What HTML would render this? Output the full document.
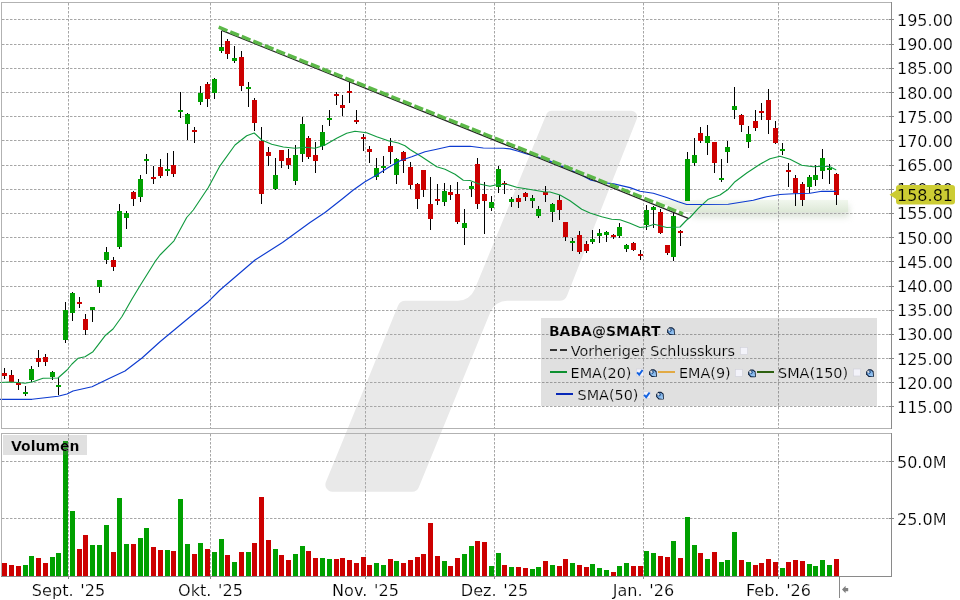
<!DOCTYPE html>
<html lang="de"><head><meta charset="utf-8"><title>BABA Chart</title>
<style>html,body{margin:0;padding:0;background:#fff;overflow:hidden}svg{display:block;will-change:transform}text{font-family:'DejaVu Sans','Liberation Sans',sans-serif;fill:#1c1c1c}.ax{font-size:16px;fill:#000;stroke:#fff;stroke-width:0.2px}.lg{font-size:14.4px;fill:#000;stroke:#e0e0e0;stroke-width:0.2px}.b{font-weight:bold}.cr{shape-rendering:crispEdges}</style></head><body>
<svg width="960" height="600" viewBox="0 0 960 600">
<defs><filter id="blur" x="-10%" y="-80%" width="120%" height="300%"><feGaussianBlur stdDeviation="3"/></filter><linearGradient id="band" x1="0" y1="0" x2="0" y2="1"><stop offset="0" stop-color="#f1f7ee"/><stop offset="1" stop-color="#dde8d7"/></linearGradient><linearGradient id="ico" x1="0" y1="0" x2="1" y2="1"><stop offset="0" stop-color="#2f62a2"/><stop offset="0.5" stop-color="#7fb2e8"/><stop offset="1" stop-color="#a9d4fb"/></linearGradient></defs>
<rect x="0" y="0" width="960" height="600" fill="#ffffff"/>
<path d="M546.3 114.5 A6 6 0 0 1 551.8 110.8 L631.2 110.8 A6 6 0 0 1 636.8 119.0 L567.0 295.7 A8 8 0 0 1 559.6 300.8 L507.1 300.8 A18 18 0 0 0 490.4 312.0 L418.8 487.3 A7 7 0 0 1 412.3 491.7 L332.4 491.7 A7 7 0 0 1 325.9 482.1 L398.0 305.8 A8 8 0 0 1 405.4 300.8 L457.9 300.8 A18 18 0 0 0 474.6 289.6 Z" fill="#e9e9e9"/>
<rect x="692" y="205" width="157" height="12" fill="#c4d0be" opacity="0.6" filter="url(#blur)"/>
<path d="M653 200 H848 V212 H684 Z" fill="url(#band)"/>
<g stroke="#a6a6a6" stroke-width="1" stroke-dasharray="2.5 1.5" fill="none">
<path d="M2 19.5 H891"/>
<path d="M2 44.5 H891"/>
<path d="M2 68.5 H891"/>
<path d="M2 92.5 H891"/>
<path d="M2 116.5 H891"/>
<path d="M2 140.5 H891"/>
<path d="M2 165.5 H891"/>
<path d="M2 189.5 H891"/>
<path d="M2 213.5 H891"/>
<path d="M2 237.5 H891"/>
<path d="M2 261.5 H891"/>
<path d="M2 286.5 H891"/>
<path d="M2 310.5 H891"/>
<path d="M2 334.5 H891"/>
<path d="M2 358.5 H891"/>
<path d="M2 382.5 H891"/>
<path d="M2 406.5 H891"/>
<path d="M2 461.5 H891"/>
<path d="M2 518.5 H891"/>
<path d="M68.5 3 V428"/>
<path d="M68.5 434 V576"/>
<path d="M210.5 3 V428"/>
<path d="M210.5 434 V576"/>
<path d="M365.5 3 V428"/>
<path d="M365.5 434 V576"/>
<path d="M494.5 3 V428"/>
<path d="M494.5 434 V576"/>
<path d="M643.5 3 V428"/>
<path d="M643.5 434 V576"/>
<path d="M778.5 3 V428"/>
<path d="M778.5 434 V576"/>
</g>
<g class="cr">
<rect x="4" y="368" width="1" height="11" fill="#000"/>
<rect x="2" y="373" width="5" height="3" fill="#cc0000"/>
<rect x="11" y="370" width="1" height="12" fill="#000"/>
<rect x="9" y="375" width="5" height="7" fill="#cc0000"/>
<rect x="18" y="379" width="1" height="11" fill="#000"/>
<rect x="16" y="383" width="5" height="2" fill="#cc0000"/>
<rect x="25" y="386" width="1" height="10" fill="#000"/>
<rect x="23" y="392" width="5" height="2" fill="#00a000"/>
<rect x="31" y="366" width="1" height="16" fill="#000"/>
<rect x="29" y="369" width="5" height="11" fill="#00a000"/>
<rect x="38" y="350" width="1" height="17" fill="#000"/>
<rect x="36" y="358" width="5" height="4" fill="#cc0000"/>
<rect x="45" y="354" width="1" height="12" fill="#000"/>
<rect x="43" y="357" width="5" height="5" fill="#cc0000"/>
<rect x="52" y="371" width="1" height="9" fill="#000"/>
<rect x="50" y="372" width="5" height="5" fill="#00a000"/>
<rect x="58" y="377" width="1" height="18" fill="#000"/>
<rect x="56" y="385" width="5" height="2" fill="#00a000"/>
<rect x="65" y="302" width="1" height="41" fill="#000"/>
<rect x="63" y="310" width="5" height="30" fill="#00a000"/>
<rect x="72" y="292" width="1" height="29" fill="#000"/>
<rect x="70" y="293" width="5" height="20" fill="#00a000"/>
<rect x="79" y="297" width="1" height="11" fill="#000"/>
<rect x="77" y="302" width="5" height="2" fill="#cc0000"/>
<rect x="85" y="314" width="1" height="21" fill="#000"/>
<rect x="83" y="319" width="5" height="11" fill="#cc0000"/>
<rect x="92" y="307" width="1" height="15" fill="#000"/>
<rect x="90" y="307" width="5" height="3" fill="#00a000"/>
<rect x="99" y="280" width="1" height="13" fill="#000"/>
<rect x="97" y="280" width="5" height="7" fill="#00a000"/>
<rect x="106" y="247" width="1" height="17" fill="#000"/>
<rect x="104" y="252" width="5" height="8" fill="#00a000"/>
<rect x="113" y="257" width="1" height="14" fill="#000"/>
<rect x="111" y="260" width="5" height="7" fill="#cc0000"/>
<rect x="119" y="204" width="1" height="45" fill="#000"/>
<rect x="117" y="211" width="5" height="36" fill="#00a000"/>
<rect x="126" y="211" width="1" height="18" fill="#000"/>
<rect x="124" y="213" width="5" height="5" fill="#00a000"/>
<rect x="133" y="191" width="1" height="15" fill="#000"/>
<rect x="131" y="192" width="5" height="7" fill="#cc0000"/>
<rect x="140" y="175" width="1" height="27" fill="#000"/>
<rect x="138" y="179" width="5" height="18" fill="#00a000"/>
<rect x="146" y="154" width="1" height="20" fill="#000"/>
<rect x="144" y="159" width="5" height="2" fill="#00a000"/>
<rect x="153" y="166" width="1" height="18" fill="#000"/>
<rect x="151" y="177" width="5" height="2" fill="#cc0000"/>
<rect x="160" y="159" width="1" height="19" fill="#000"/>
<rect x="158" y="167" width="5" height="9" fill="#cc0000"/>
<rect x="167" y="153" width="1" height="23" fill="#000"/>
<rect x="165" y="169" width="5" height="2" fill="#00a000"/>
<rect x="173" y="151" width="1" height="26" fill="#000"/>
<rect x="171" y="165" width="5" height="9" fill="#cc0000"/>
<rect x="180" y="92" width="1" height="26" fill="#000"/>
<rect x="178" y="110" width="5" height="2" fill="#00a000"/>
<rect x="187" y="113" width="1" height="27" fill="#000"/>
<rect x="185" y="114" width="5" height="10" fill="#00a000"/>
<rect x="194" y="127" width="1" height="16" fill="#000"/>
<rect x="192" y="130" width="5" height="2" fill="#cc0000"/>
<rect x="200" y="86" width="1" height="19" fill="#000"/>
<rect x="198" y="93" width="5" height="9" fill="#00a000"/>
<rect x="207" y="82" width="1" height="25" fill="#000"/>
<rect x="205" y="84" width="5" height="15" fill="#cc0000"/>
<rect x="214" y="78" width="1" height="21" fill="#000"/>
<rect x="212" y="79" width="5" height="14" fill="#00a000"/>
<rect x="221" y="31" width="1" height="22" fill="#000"/>
<rect x="219" y="47" width="5" height="4" fill="#00a000"/>
<rect x="227" y="39" width="1" height="20" fill="#000"/>
<rect x="225" y="41" width="5" height="13" fill="#cc0000"/>
<rect x="234" y="46" width="1" height="17" fill="#000"/>
<rect x="232" y="58" width="5" height="3" fill="#00a000"/>
<rect x="241" y="51" width="1" height="40" fill="#000"/>
<rect x="239" y="57" width="5" height="29" fill="#cc0000"/>
<rect x="248" y="82" width="1" height="25" fill="#000"/>
<rect x="246" y="87" width="5" height="2" fill="#00a000"/>
<rect x="254" y="98" width="1" height="33" fill="#000"/>
<rect x="252" y="100" width="5" height="23" fill="#cc0000"/>
<rect x="261" y="127" width="1" height="77" fill="#000"/>
<rect x="259" y="141" width="5" height="53" fill="#cc0000"/>
<rect x="268" y="147" width="1" height="19" fill="#000"/>
<rect x="266" y="152" width="5" height="4" fill="#cc0000"/>
<rect x="275" y="158" width="1" height="32" fill="#000"/>
<rect x="273" y="175" width="5" height="14" fill="#00a000"/>
<rect x="281" y="150" width="1" height="18" fill="#000"/>
<rect x="279" y="150" width="5" height="11" fill="#cc0000"/>
<rect x="288" y="149" width="1" height="20" fill="#000"/>
<rect x="286" y="158" width="5" height="7" fill="#cc0000"/>
<rect x="295" y="145" width="1" height="40" fill="#000"/>
<rect x="293" y="155" width="5" height="26" fill="#00a000"/>
<rect x="302" y="117" width="1" height="45" fill="#000"/>
<rect x="300" y="124" width="5" height="30" fill="#00a000"/>
<rect x="308" y="136" width="1" height="23" fill="#000"/>
<rect x="306" y="138" width="5" height="19" fill="#cc0000"/>
<rect x="315" y="142" width="1" height="31" fill="#000"/>
<rect x="313" y="155" width="5" height="6" fill="#cc0000"/>
<rect x="322" y="125" width="1" height="25" fill="#000"/>
<rect x="320" y="132" width="5" height="14" fill="#00a000"/>
<rect x="329" y="110" width="1" height="16" fill="#000"/>
<rect x="327" y="118" width="5" height="2" fill="#00a000"/>
<rect x="336" y="92" width="1" height="13" fill="#000"/>
<rect x="334" y="94" width="5" height="2" fill="#cc0000"/>
<rect x="342" y="95" width="1" height="21" fill="#000"/>
<rect x="340" y="105" width="5" height="3" fill="#cc0000"/>
<rect x="349" y="80" width="1" height="23" fill="#000"/>
<rect x="347" y="91" width="5" height="2" fill="#cc0000"/>
<rect x="356" y="110" width="1" height="14" fill="#000"/>
<rect x="354" y="120" width="5" height="2" fill="#cc0000"/>
<rect x="363" y="134" width="1" height="17" fill="#000"/>
<rect x="361" y="137" width="5" height="2" fill="#cc0000"/>
<rect x="369" y="146" width="1" height="17" fill="#000"/>
<rect x="367" y="149" width="5" height="3" fill="#cc0000"/>
<rect x="376" y="158" width="1" height="22" fill="#000"/>
<rect x="374" y="168" width="5" height="9" fill="#00a000"/>
<rect x="383" y="156" width="1" height="17" fill="#000"/>
<rect x="381" y="166" width="5" height="2" fill="#00a000"/>
<rect x="390" y="138" width="1" height="26" fill="#000"/>
<rect x="388" y="146" width="5" height="6" fill="#cc0000"/>
<rect x="396" y="158" width="1" height="26" fill="#000"/>
<rect x="394" y="159" width="5" height="16" fill="#00a000"/>
<rect x="403" y="151" width="1" height="22" fill="#000"/>
<rect x="401" y="152" width="5" height="9" fill="#cc0000"/>
<rect x="410" y="162" width="1" height="27" fill="#000"/>
<rect x="408" y="167" width="5" height="18" fill="#cc0000"/>
<rect x="417" y="183" width="1" height="26" fill="#000"/>
<rect x="415" y="184" width="5" height="15" fill="#cc0000"/>
<rect x="423" y="170" width="1" height="27" fill="#000"/>
<rect x="421" y="170" width="5" height="20" fill="#cc0000"/>
<rect x="430" y="177" width="1" height="53" fill="#000"/>
<rect x="428" y="204" width="5" height="15" fill="#cc0000"/>
<rect x="437" y="184" width="1" height="21" fill="#000"/>
<rect x="435" y="199" width="5" height="2" fill="#cc0000"/>
<rect x="444" y="183" width="1" height="23" fill="#000"/>
<rect x="442" y="191" width="5" height="11" fill="#00a000"/>
<rect x="450" y="185" width="1" height="15" fill="#000"/>
<rect x="448" y="192" width="5" height="3" fill="#cc0000"/>
<rect x="457" y="182" width="1" height="42" fill="#000"/>
<rect x="455" y="194" width="5" height="28" fill="#cc0000"/>
<rect x="464" y="209" width="1" height="36" fill="#000"/>
<rect x="462" y="223" width="5" height="5" fill="#00a000"/>
<rect x="471" y="182" width="1" height="15" fill="#000"/>
<rect x="469" y="186" width="5" height="3" fill="#00a000"/>
<rect x="477" y="158" width="1" height="51" fill="#000"/>
<rect x="475" y="164" width="5" height="40" fill="#cc0000"/>
<rect x="484" y="182" width="1" height="52" fill="#000"/>
<rect x="482" y="194" width="5" height="7" fill="#cc0000"/>
<rect x="491" y="196" width="1" height="15" fill="#000"/>
<rect x="489" y="202" width="5" height="6" fill="#00a000"/>
<rect x="498" y="166" width="1" height="27" fill="#000"/>
<rect x="496" y="169" width="5" height="18" fill="#00a000"/>
<rect x="504" y="181" width="1" height="13" fill="#000"/>
<rect x="502" y="183" width="5" height="2" fill="#cc0000"/>
<rect x="511" y="197" width="1" height="10" fill="#000"/>
<rect x="509" y="199" width="5" height="3" fill="#00a000"/>
<rect x="518" y="195" width="1" height="13" fill="#000"/>
<rect x="516" y="198" width="5" height="4" fill="#cc0000"/>
<rect x="525" y="192" width="1" height="9" fill="#000"/>
<rect x="523" y="193" width="5" height="4" fill="#cc0000"/>
<rect x="532" y="195" width="1" height="13" fill="#000"/>
<rect x="530" y="198" width="5" height="3" fill="#00a000"/>
<rect x="538" y="206" width="1" height="12" fill="#000"/>
<rect x="536" y="209" width="5" height="7" fill="#00a000"/>
<rect x="545" y="186" width="1" height="16" fill="#000"/>
<rect x="543" y="192" width="5" height="3" fill="#cc0000"/>
<rect x="552" y="203" width="1" height="19" fill="#000"/>
<rect x="550" y="204" width="5" height="8" fill="#00a000"/>
<rect x="559" y="195" width="1" height="25" fill="#000"/>
<rect x="557" y="200" width="5" height="10" fill="#cc0000"/>
<rect x="565" y="222" width="1" height="19" fill="#000"/>
<rect x="563" y="222" width="5" height="15" fill="#cc0000"/>
<rect x="572" y="238" width="1" height="13" fill="#000"/>
<rect x="570" y="241" width="5" height="2" fill="#00a000"/>
<rect x="579" y="231" width="1" height="23" fill="#000"/>
<rect x="577" y="235" width="5" height="17" fill="#cc0000"/>
<rect x="586" y="241" width="1" height="12" fill="#000"/>
<rect x="584" y="244" width="5" height="7" fill="#cc0000"/>
<rect x="592" y="230" width="1" height="14" fill="#000"/>
<rect x="590" y="239" width="5" height="3" fill="#00a000"/>
<rect x="599" y="229" width="1" height="14" fill="#000"/>
<rect x="597" y="233" width="5" height="3" fill="#00a000"/>
<rect x="606" y="231" width="1" height="11" fill="#000"/>
<rect x="604" y="232" width="5" height="3" fill="#00a000"/>
<rect x="613" y="234" width="1" height="5" fill="#000"/>
<rect x="611" y="235" width="5" height="2" fill="#cc0000"/>
<rect x="619" y="223" width="1" height="15" fill="#000"/>
<rect x="617" y="227" width="5" height="9" fill="#00a000"/>
<rect x="626" y="244" width="1" height="8" fill="#000"/>
<rect x="624" y="245" width="5" height="4" fill="#00a000"/>
<rect x="633" y="242" width="1" height="9" fill="#000"/>
<rect x="631" y="243" width="5" height="7" fill="#cc0000"/>
<rect x="640" y="250" width="1" height="10" fill="#000"/>
<rect x="638" y="254" width="5" height="2" fill="#cc0000"/>
<rect x="646" y="205" width="1" height="25" fill="#000"/>
<rect x="644" y="210" width="5" height="15" fill="#00a000"/>
<rect x="653" y="206" width="1" height="22" fill="#000"/>
<rect x="651" y="207" width="5" height="3" fill="#00a000"/>
<rect x="660" y="209" width="1" height="25" fill="#000"/>
<rect x="658" y="212" width="5" height="21" fill="#cc0000"/>
<rect x="667" y="245" width="1" height="10" fill="#000"/>
<rect x="665" y="245" width="5" height="8" fill="#cc0000"/>
<rect x="673" y="213" width="1" height="48" fill="#000"/>
<rect x="671" y="216" width="5" height="41" fill="#00a000"/>
<rect x="680" y="230" width="1" height="16" fill="#000"/>
<rect x="678" y="231" width="5" height="2" fill="#cc0000"/>
<rect x="687" y="152" width="1" height="49" fill="#000"/>
<rect x="685" y="159" width="5" height="42" fill="#00a000"/>
<rect x="694" y="138" width="1" height="28" fill="#000"/>
<rect x="692" y="155" width="5" height="8" fill="#00a000"/>
<rect x="700" y="127" width="1" height="16" fill="#000"/>
<rect x="698" y="133" width="5" height="8" fill="#cc0000"/>
<rect x="707" y="125" width="1" height="30" fill="#000"/>
<rect x="705" y="136" width="5" height="7" fill="#00a000"/>
<rect x="714" y="142" width="1" height="31" fill="#000"/>
<rect x="712" y="142" width="5" height="21" fill="#cc0000"/>
<rect x="721" y="159" width="1" height="23" fill="#000"/>
<rect x="719" y="178" width="5" height="2" fill="#00a000"/>
<rect x="727" y="141" width="1" height="22" fill="#000"/>
<rect x="725" y="147" width="5" height="5" fill="#00a000"/>
<rect x="734" y="87" width="1" height="32" fill="#000"/>
<rect x="732" y="106" width="5" height="4" fill="#00a000"/>
<rect x="741" y="114" width="1" height="18" fill="#000"/>
<rect x="739" y="115" width="5" height="10" fill="#cc0000"/>
<rect x="748" y="126" width="1" height="22" fill="#000"/>
<rect x="746" y="134" width="5" height="8" fill="#00a000"/>
<rect x="755" y="110" width="1" height="21" fill="#000"/>
<rect x="753" y="121" width="5" height="7" fill="#cc0000"/>
<rect x="761" y="103" width="1" height="17" fill="#000"/>
<rect x="759" y="111" width="5" height="2" fill="#cc0000"/>
<rect x="768" y="89" width="1" height="45" fill="#000"/>
<rect x="766" y="100" width="5" height="20" fill="#cc0000"/>
<rect x="775" y="121" width="1" height="23" fill="#000"/>
<rect x="773" y="128" width="5" height="15" fill="#cc0000"/>
<rect x="782" y="143" width="1" height="12" fill="#000"/>
<rect x="780" y="149" width="5" height="2" fill="#00a000"/>
<rect x="788" y="163" width="1" height="24" fill="#000"/>
<rect x="786" y="170" width="5" height="2" fill="#cc0000"/>
<rect x="795" y="175" width="1" height="31" fill="#000"/>
<rect x="793" y="178" width="5" height="15" fill="#cc0000"/>
<rect x="802" y="182" width="1" height="24" fill="#000"/>
<rect x="800" y="184" width="5" height="16" fill="#cc0000"/>
<rect x="809" y="175" width="1" height="18" fill="#000"/>
<rect x="807" y="177" width="5" height="10" fill="#00a000"/>
<rect x="815" y="165" width="1" height="21" fill="#000"/>
<rect x="813" y="175" width="5" height="5" fill="#00a000"/>
<rect x="822" y="149" width="1" height="30" fill="#000"/>
<rect x="820" y="158" width="5" height="13" fill="#00a000"/>
<rect x="829" y="164" width="1" height="20" fill="#000"/>
<rect x="827" y="168" width="5" height="2" fill="#00a000"/>
<rect x="836" y="173" width="1" height="32" fill="#000"/>
<rect x="834" y="174" width="5" height="21" fill="#cc0000"/>
</g>
<path d="M0.0 382.5 L10.0 382.0 L18.0 382.5 L25.0 383.3 L33.0 381.7 L43.0 378.3 L58.0 378.0 L67.0 370.0 L72.0 364.0 L78.0 358.3 L85.0 356.7 L93.0 351.7 L105.0 335.8 L113.0 329.0 L122.0 316.5 L131.7 299.5 L140.0 285.8 L155.0 261.7 L160.0 255.0 L174.0 240.8 L186.7 217.5 L193.3 210.0 L208.3 187.5 L220.0 165.8 L235.0 145.0 L246.7 135.8 L254.2 133.0 L261.7 140.0 L271.7 144.2 L283.3 147.0 L295.0 148.3 L305.0 147.2 L315.0 148.3 L325.0 145.0 L336.7 138.3 L346.7 133.3 L355.0 131.2 L366.7 132.8 L376.7 136.7 L388.3 140.8 L398.3 143.0 L405.0 145.8 L410.0 149.5 L421.7 156.7 L436.7 166.7 L445.0 169.2 L455.0 174.2 L463.3 180.3 L470.0 180.5 L478.3 183.7 L490.0 186.3 L496.7 184.7 L506.7 184.2 L516.7 187.2 L533.3 190.0 L545.0 192.0 L550.0 192.0 L560.0 195.0 L570.0 200.8 L581.7 209.2 L590.0 213.0 L601.7 216.7 L611.7 219.2 L620.0 219.7 L630.0 223.3 L640.0 227.5 L646.7 226.7 L654.2 224.2 L666.7 227.5 L680.0 227.0 L686.7 220.0 L690.0 217.5 L698.3 208.3 L708.3 199.2 L720.0 195.0 L728.3 189.2 L735.0 181.7 L746.7 173.0 L760.0 164.2 L770.0 158.7 L780.0 156.2 L790.0 159.2 L801.7 165.2 L813.3 166.8 L823.3 166.3 L830.0 166.7 L835.8 169.7" fill="none" stroke="#109a3e" stroke-width="1.12" stroke-linejoin="round" stroke-linecap="round"/>
<path d="M0.0 399.4 L32.0 399.3 L58.0 396.3 L67.0 394.0 L73.0 391.0 L92.0 386.7 L108.0 379.0 L125.0 371.0 L142.0 358.0 L160.0 341.7 L198.3 310.0 L208.3 301.7 L220.0 290.0 L255.0 260.0 L282.5 242.5 L310.0 222.5 L325.0 212.5 L342.5 198.8 L353.3 190.0 L365.0 181.7 L376.7 175.0 L388.3 167.5 L400.0 160.8 L411.7 156.7 L425.0 151.7 L436.7 149.2 L450.0 146.3 L470.0 146.3 L483.3 148.0 L503.3 148.3 L510.0 148.9 L517.5 151.0 L526.0 153.8 L538.0 157.0 L548.8 160.6 L560.0 165.6 L580.0 174.2 L591.0 180.2 L602.5 182.5 L613.8 183.9 L630.0 187.6 L640.0 191.3 L653.3 193.3 L666.7 197.5 L678.3 201.7 L686.7 204.5 L700.0 204.5 L728.3 204.3 L753.3 200.3 L766.7 196.7 L780.0 194.5 L793.3 193.7 L810.0 193.3 L821.7 191.3 L835.8 191.3" fill="none" stroke="#0d3bd0" stroke-width="1.15" stroke-linejoin="round" stroke-linecap="round"/>
<path d="M221.7 30.3 L688.3 218.3" stroke="#222" stroke-width="1.25" fill="none"/>
<path d="M218.7 27.2 L683 213.8" stroke="#5cb848" stroke-width="3.4" stroke-dasharray="9.4 3" fill="none"/>
<g class="cr" fill="none" stroke="#b2b2b2" stroke-width="1">
<rect x="1.5" y="2.5" width="890" height="426"/>
<rect x="1.5" y="433.5" width="890" height="143"/>
</g>
<g class="cr" fill="none" stroke="#8a8a8a" stroke-width="1">
<path d="M891.5 2 V429"/>
<path d="M891.5 433 V577"/>
<path d="M1 576.5 H892"/>
<path d="M889 19.5 H894"/>
<path d="M889 44.5 H894"/>
<path d="M889 68.5 H894"/>
<path d="M889 92.5 H894"/>
<path d="M889 116.5 H894"/>
<path d="M889 140.5 H894"/>
<path d="M889 165.5 H894"/>
<path d="M889 189.5 H894"/>
<path d="M889 213.5 H894"/>
<path d="M889 237.5 H894"/>
<path d="M889 261.5 H894"/>
<path d="M889 286.5 H894"/>
<path d="M889 310.5 H894"/>
<path d="M889 334.5 H894"/>
<path d="M889 358.5 H894"/>
<path d="M889 382.5 H894"/>
<path d="M889 406.5 H894"/>
<path d="M889 461.5 H894"/>
<path d="M889 518.5 H894"/>
<path d="M68.5 577 V579"/>
<path d="M210.5 577 V579"/>
<path d="M365.5 577 V579"/>
<path d="M494.5 577 V579"/>
<path d="M643.5 577 V579"/>
<path d="M778.5 577 V579"/>
<path d="M839.5 577 V598"/>
</g>
<g class="cr">
<rect x="2" y="563" width="5" height="13" fill="#cc0000"/>
<rect x="9" y="565" width="5" height="11" fill="#cc0000"/>
<rect x="16" y="566" width="5" height="10" fill="#cc0000"/>
<rect x="23" y="565" width="5" height="11" fill="#00a000"/>
<rect x="29" y="556" width="5" height="20" fill="#00a000"/>
<rect x="36" y="558" width="5" height="18" fill="#cc0000"/>
<rect x="43" y="563" width="5" height="13" fill="#cc0000"/>
<rect x="50" y="557" width="5" height="19" fill="#00a000"/>
<rect x="56" y="553" width="5" height="23" fill="#00a000"/>
<rect x="63" y="441" width="5" height="135" fill="#00a000"/>
<rect x="70" y="511" width="5" height="65" fill="#00a000"/>
<rect x="77" y="549" width="5" height="27" fill="#cc0000"/>
<rect x="83" y="535" width="5" height="41" fill="#cc0000"/>
<rect x="90" y="545" width="5" height="31" fill="#00a000"/>
<rect x="97" y="545" width="5" height="31" fill="#00a000"/>
<rect x="104" y="525" width="5" height="51" fill="#00a000"/>
<rect x="111" y="552" width="5" height="24" fill="#cc0000"/>
<rect x="117" y="498" width="5" height="78" fill="#00a000"/>
<rect x="124" y="544" width="5" height="32" fill="#00a000"/>
<rect x="131" y="544" width="5" height="32" fill="#cc0000"/>
<rect x="138" y="538" width="5" height="38" fill="#00a000"/>
<rect x="144" y="528" width="5" height="48" fill="#00a000"/>
<rect x="151" y="547" width="5" height="29" fill="#cc0000"/>
<rect x="158" y="550" width="5" height="26" fill="#cc0000"/>
<rect x="165" y="550" width="5" height="26" fill="#00a000"/>
<rect x="171" y="551" width="5" height="25" fill="#cc0000"/>
<rect x="178" y="499" width="5" height="77" fill="#00a000"/>
<rect x="185" y="544" width="5" height="32" fill="#00a000"/>
<rect x="192" y="554" width="5" height="22" fill="#cc0000"/>
<rect x="198" y="543" width="5" height="33" fill="#00a000"/>
<rect x="205" y="549" width="5" height="27" fill="#cc0000"/>
<rect x="212" y="552" width="5" height="24" fill="#00a000"/>
<rect x="219" y="539" width="5" height="37" fill="#00a000"/>
<rect x="225" y="555" width="5" height="21" fill="#cc0000"/>
<rect x="232" y="562" width="5" height="14" fill="#00a000"/>
<rect x="239" y="552" width="5" height="24" fill="#cc0000"/>
<rect x="246" y="552" width="5" height="24" fill="#00a000"/>
<rect x="252" y="543" width="5" height="33" fill="#cc0000"/>
<rect x="259" y="497" width="5" height="79" fill="#cc0000"/>
<rect x="266" y="540" width="5" height="36" fill="#cc0000"/>
<rect x="273" y="549" width="5" height="27" fill="#00a000"/>
<rect x="279" y="555" width="5" height="21" fill="#cc0000"/>
<rect x="286" y="560" width="5" height="16" fill="#cc0000"/>
<rect x="293" y="554" width="5" height="22" fill="#00a000"/>
<rect x="300" y="546" width="5" height="30" fill="#00a000"/>
<rect x="306" y="551" width="5" height="25" fill="#cc0000"/>
<rect x="313" y="558" width="5" height="18" fill="#cc0000"/>
<rect x="320" y="558" width="5" height="18" fill="#00a000"/>
<rect x="327" y="559" width="5" height="17" fill="#00a000"/>
<rect x="334" y="559" width="5" height="17" fill="#cc0000"/>
<rect x="340" y="558" width="5" height="18" fill="#cc0000"/>
<rect x="347" y="560" width="5" height="16" fill="#cc0000"/>
<rect x="354" y="563" width="5" height="13" fill="#cc0000"/>
<rect x="361" y="557" width="5" height="19" fill="#cc0000"/>
<rect x="367" y="565" width="5" height="11" fill="#cc0000"/>
<rect x="374" y="563" width="5" height="13" fill="#00a000"/>
<rect x="381" y="565" width="5" height="11" fill="#00a000"/>
<rect x="388" y="559" width="5" height="17" fill="#cc0000"/>
<rect x="394" y="561" width="5" height="15" fill="#00a000"/>
<rect x="401" y="563" width="5" height="13" fill="#cc0000"/>
<rect x="408" y="560" width="5" height="16" fill="#cc0000"/>
<rect x="415" y="557" width="5" height="19" fill="#cc0000"/>
<rect x="421" y="554" width="5" height="22" fill="#cc0000"/>
<rect x="428" y="523" width="5" height="53" fill="#cc0000"/>
<rect x="435" y="556" width="5" height="20" fill="#cc0000"/>
<rect x="442" y="561" width="5" height="15" fill="#00a000"/>
<rect x="448" y="566" width="5" height="10" fill="#cc0000"/>
<rect x="455" y="558" width="5" height="18" fill="#cc0000"/>
<rect x="462" y="554" width="5" height="22" fill="#00a000"/>
<rect x="469" y="546" width="5" height="30" fill="#00a000"/>
<rect x="475" y="541" width="5" height="35" fill="#cc0000"/>
<rect x="482" y="542" width="5" height="34" fill="#cc0000"/>
<rect x="489" y="566" width="5" height="10" fill="#00a000"/>
<rect x="496" y="553" width="5" height="23" fill="#00a000"/>
<rect x="502" y="565" width="5" height="11" fill="#cc0000"/>
<rect x="509" y="567" width="5" height="9" fill="#00a000"/>
<rect x="516" y="567" width="5" height="9" fill="#cc0000"/>
<rect x="523" y="568" width="5" height="8" fill="#cc0000"/>
<rect x="530" y="569" width="5" height="7" fill="#00a000"/>
<rect x="536" y="567" width="5" height="9" fill="#00a000"/>
<rect x="543" y="561" width="5" height="15" fill="#cc0000"/>
<rect x="550" y="565" width="5" height="11" fill="#00a000"/>
<rect x="557" y="566" width="5" height="10" fill="#cc0000"/>
<rect x="563" y="559" width="5" height="17" fill="#cc0000"/>
<rect x="570" y="563" width="5" height="13" fill="#00a000"/>
<rect x="577" y="565" width="5" height="11" fill="#cc0000"/>
<rect x="584" y="567" width="5" height="9" fill="#cc0000"/>
<rect x="590" y="564" width="5" height="12" fill="#00a000"/>
<rect x="597" y="568" width="5" height="8" fill="#00a000"/>
<rect x="604" y="570" width="5" height="6" fill="#00a000"/>
<rect x="611" y="572" width="5" height="4" fill="#cc0000"/>
<rect x="617" y="566" width="5" height="10" fill="#00a000"/>
<rect x="624" y="563" width="5" height="13" fill="#00a000"/>
<rect x="631" y="566" width="5" height="10" fill="#cc0000"/>
<rect x="638" y="566" width="5" height="10" fill="#cc0000"/>
<rect x="644" y="551" width="5" height="25" fill="#00a000"/>
<rect x="651" y="553" width="5" height="23" fill="#00a000"/>
<rect x="658" y="556" width="5" height="20" fill="#cc0000"/>
<rect x="665" y="557" width="5" height="19" fill="#cc0000"/>
<rect x="671" y="541" width="5" height="35" fill="#00a000"/>
<rect x="678" y="558" width="5" height="18" fill="#cc0000"/>
<rect x="685" y="517" width="5" height="59" fill="#00a000"/>
<rect x="692" y="545" width="5" height="31" fill="#00a000"/>
<rect x="698" y="553" width="5" height="23" fill="#cc0000"/>
<rect x="705" y="559" width="5" height="17" fill="#00a000"/>
<rect x="712" y="552" width="5" height="24" fill="#cc0000"/>
<rect x="719" y="562" width="5" height="14" fill="#00a000"/>
<rect x="725" y="560" width="5" height="16" fill="#00a000"/>
<rect x="732" y="532" width="5" height="44" fill="#00a000"/>
<rect x="739" y="560" width="5" height="16" fill="#cc0000"/>
<rect x="746" y="562" width="5" height="14" fill="#00a000"/>
<rect x="753" y="565" width="5" height="11" fill="#cc0000"/>
<rect x="759" y="563" width="5" height="13" fill="#cc0000"/>
<rect x="766" y="559" width="5" height="17" fill="#cc0000"/>
<rect x="773" y="562" width="5" height="14" fill="#cc0000"/>
<rect x="780" y="568" width="5" height="8" fill="#00a000"/>
<rect x="786" y="562" width="5" height="14" fill="#cc0000"/>
<rect x="793" y="560" width="5" height="16" fill="#cc0000"/>
<rect x="800" y="561" width="5" height="15" fill="#cc0000"/>
<rect x="807" y="564" width="5" height="12" fill="#00a000"/>
<rect x="813" y="566" width="5" height="10" fill="#00a000"/>
<rect x="820" y="560" width="5" height="16" fill="#00a000"/>
<rect x="827" y="565" width="5" height="11" fill="#00a000"/>
<rect x="834" y="559" width="5" height="17" fill="#cc0000"/>
</g>
<rect x="3" y="435" width="84" height="20" fill="#707070" fill-opacity="0.22"/>
<text x="11" y="451" class="b" style="font-size:14px;fill:#000;stroke:#e0e0e0;stroke-width:0.2px">Volumen</text>
<text x="897" y="25.9" class="ax">195.00</text>
<text x="897" y="50.1" class="ax">190.00</text>
<text x="897" y="74.3" class="ax">185.00</text>
<text x="897" y="98.5" class="ax">180.00</text>
<text x="897" y="122.7" class="ax">175.00</text>
<text x="897" y="146.8" class="ax">170.00</text>
<text x="897" y="171.0" class="ax">165.00</text>
<text x="897" y="195.2" class="ax">160.00</text>
<text x="897" y="219.4" class="ax">155.00</text>
<text x="897" y="243.6" class="ax">150.00</text>
<text x="897" y="267.8" class="ax">145.00</text>
<text x="897" y="292.0" class="ax">140.00</text>
<text x="897" y="316.2" class="ax">135.00</text>
<text x="897" y="340.4" class="ax">130.00</text>
<text x="897" y="364.6" class="ax">125.00</text>
<text x="897" y="388.8" class="ax">120.00</text>
<text x="897" y="412.9" class="ax">115.00</text>
<text x="897" y="468" class="ax">50.0M</text>
<text x="897" y="525" class="ax">25.0M</text>
<text x="68.5" y="596.1" class="ax" style="font-size:16.1px;word-spacing:1.6px" text-anchor="middle">Sept. '25</text>
<text x="210.5" y="596.1" class="ax" style="font-size:16.1px;word-spacing:1.6px" text-anchor="middle">Okt. '25</text>
<text x="365.5" y="596.1" class="ax" style="font-size:16.1px;word-spacing:1.6px" text-anchor="middle">Nov. '25</text>
<text x="494.5" y="596.1" class="ax" style="font-size:16.1px;word-spacing:1.6px" text-anchor="middle">Dez. '25</text>
<text x="643.5" y="596.1" class="ax" style="font-size:16.1px;word-spacing:1.6px" text-anchor="middle">Jan. '26</text>
<text x="778.5" y="596.1" class="ax" style="font-size:16.1px;word-spacing:1.6px" text-anchor="middle">Feb. '26</text>
<path d="M889.5 194.7 L896 190.5 V188 Q896 185 899 185 H952 Q955 185 955 188 V201.5 Q955 204.5 952 204.5 H899 Q896 204.5 896 201.5 V199 Z" fill="#cccc33"/>
<text x="897" y="200.5" class="ax" style="stroke:#cccc33">158.81</text>
<rect x="541" y="318" width="336" height="88" fill="#707070" fill-opacity="0.22"/>
<text x="548.9" y="336.1" class="lg b" style="font-size:14px">BABA@SMART</text>
<path d="M550 350 H567" stroke="#333" stroke-width="2" stroke-dasharray="7 3" fill="none"/>
<text x="570.7" y="356" class="lg">Vorheriger Schlusskurs</text>
<path d="M550 372 H567" stroke="#0d9030" stroke-width="2" fill="none"/>
<text x="570.6" y="377.5" class="lg">EMA(20)</text>
<path d="M658 372 H675" stroke="#e2aa44" stroke-width="2" fill="none"/>
<text x="679" y="377.5" class="lg">EMA(9)</text>
<path d="M757 372 H774" stroke="#2d6010" stroke-width="2" fill="none"/>
<text x="778" y="377.5" class="lg">SMA(150)</text>
<path d="M556 394 H573" stroke="#0828b8" stroke-width="2" fill="none"/>
<text x="577.5" y="399.5" class="lg">SMA(50)</text>
<g transform="translate(671 331.1)">
<path d="M-1.6 -3.9 L1.2 -3.9 L3.6 -1.9 L3.9 3.6 L2.6 4 L-1.4 3.9 L-3.9 1.2 L-3.9 -1.4 Z" fill="#0a1c38"/>
<path d="M-0.6 -2.9 L1.3 -2.6 L2.7 -1 L3.1 3.3 L-0.8 3 L-2.9 0.8 L-2.7 -0.9 Z" fill="url(#ico)"/>
<path d="M-2.9 -2.3 L-0.9 -2.7 L-0.2 -1.0 L-1.2 -0.2 L-2.6 -0.6 Z" fill="#d9dbe0"/>
<path d="M-0.4 -2.2 Q1.2 -0.9 -0.6 0.6" fill="none" stroke="#1d4273" stroke-width="1"/>
</g>
<rect x="740.5" y="347.5" width="7" height="7" fill="#f3f3fa" stroke="#d0d0da" stroke-width="0.6"/>
<rect x="636.5" y="369.0" width="7" height="7" fill="#f3f3fa" stroke="#d0d0da" stroke-width="0.6"/>
<path d="M637.1 372.3 l2.1 2.3 l3.4 -4.6" stroke="#1463e0" stroke-width="2" fill="none"/>
<g transform="translate(653 373.1)">
<path d="M-1.6 -3.9 L1.2 -3.9 L3.6 -1.9 L3.9 3.6 L2.6 4 L-1.4 3.9 L-3.9 1.2 L-3.9 -1.4 Z" fill="#0a1c38"/>
<path d="M-0.6 -2.9 L1.3 -2.6 L2.7 -1 L3.1 3.3 L-0.8 3 L-2.9 0.8 L-2.7 -0.9 Z" fill="url(#ico)"/>
<path d="M-2.9 -2.3 L-0.9 -2.7 L-0.2 -1.0 L-1.2 -0.2 L-2.6 -0.6 Z" fill="#d9dbe0"/>
<path d="M-0.4 -2.2 Q1.2 -0.9 -0.6 0.6" fill="none" stroke="#1d4273" stroke-width="1"/>
</g>
<rect x="735.3" y="369.4" width="7" height="7" fill="#f3f3fa" stroke="#d0d0da" stroke-width="0.6"/>
<g transform="translate(752 373.3)">
<path d="M-1.6 -3.9 L1.2 -3.9 L3.6 -1.9 L3.9 3.6 L2.6 4 L-1.4 3.9 L-3.9 1.2 L-3.9 -1.4 Z" fill="#0a1c38"/>
<path d="M-0.6 -2.9 L1.3 -2.6 L2.7 -1 L3.1 3.3 L-0.8 3 L-2.9 0.8 L-2.7 -0.9 Z" fill="url(#ico)"/>
<path d="M-2.9 -2.3 L-0.9 -2.7 L-0.2 -1.0 L-1.2 -0.2 L-2.6 -0.6 Z" fill="#d9dbe0"/>
<path d="M-0.4 -2.2 Q1.2 -0.9 -0.6 0.6" fill="none" stroke="#1d4273" stroke-width="1"/>
</g>
<rect x="853.5" y="369.0" width="7" height="7" fill="#f3f3fa" stroke="#d0d0da" stroke-width="0.6"/>
<g transform="translate(870 373.1)">
<path d="M-1.6 -3.9 L1.2 -3.9 L3.6 -1.9 L3.9 3.6 L2.6 4 L-1.4 3.9 L-3.9 1.2 L-3.9 -1.4 Z" fill="#0a1c38"/>
<path d="M-0.6 -2.9 L1.3 -2.6 L2.7 -1 L3.1 3.3 L-0.8 3 L-2.9 0.8 L-2.7 -0.9 Z" fill="url(#ico)"/>
<path d="M-2.9 -2.3 L-0.9 -2.7 L-0.2 -1.0 L-1.2 -0.2 L-2.6 -0.6 Z" fill="#d9dbe0"/>
<path d="M-0.4 -2.2 Q1.2 -0.9 -0.6 0.6" fill="none" stroke="#1d4273" stroke-width="1"/>
</g>
<rect x="643.5" y="391.5" width="7" height="7" fill="#f3f3fa" stroke="#d0d0da" stroke-width="0.6"/>
<path d="M644.1 394.8 l2.1 2.3 l3.4 -4.6" stroke="#1463e0" stroke-width="2" fill="none"/>
<g transform="translate(660 395.6)">
<path d="M-1.6 -3.9 L1.2 -3.9 L3.6 -1.9 L3.9 3.6 L2.6 4 L-1.4 3.9 L-3.9 1.2 L-3.9 -1.4 Z" fill="#0a1c38"/>
<path d="M-0.6 -2.9 L1.3 -2.6 L2.7 -1 L3.1 3.3 L-0.8 3 L-2.9 0.8 L-2.7 -0.9 Z" fill="url(#ico)"/>
<path d="M-2.9 -2.3 L-0.9 -2.7 L-0.2 -1.0 L-1.2 -0.2 L-2.6 -0.6 Z" fill="#d9dbe0"/>
<path d="M-0.4 -2.2 Q1.2 -0.9 -0.6 0.6" fill="none" stroke="#1d4273" stroke-width="1"/>
</g>
<path d="M842 589.5 L845.6 585.8 V587.9 H848.2 V591.2 H845.6 V593.2 Z" fill="#808080"/>
</svg>
</body></html>
